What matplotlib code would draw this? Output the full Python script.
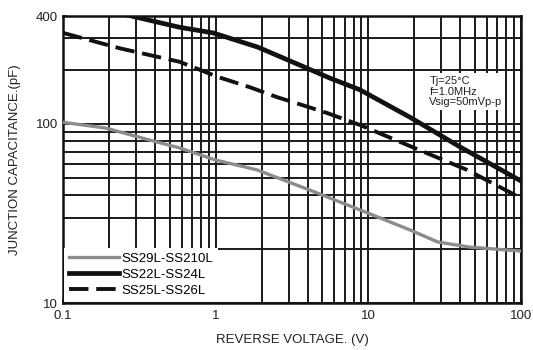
import numpy as np
import matplotlib.pyplot as plt
from matplotlib.ticker import FixedLocator, LogLocator, NullFormatter, FixedFormatter

plt.rcParams["font.family"] = ["Liberation Sans", "DejaVu Sans"]


# DONNÉES

v_ss29 = [0.1, 0.19, 0.37, 0.58, 1.0, 1.86, 4.1, 8.8, 18.7, 28.5, 46.4, 100]
c_ss29 = [102, 94.8, 81.2, 73.4, 62.8, 55.4, 42.8, 33.1, 25.6, 21.9, 20.5, 19.5]

v_ss22 = [0.1, 0.28, 0.58, 0.96, 1.89, 3.55, 5.6, 8.8, 18.7, 39.8, 100]
c_ss22 = [485, 400, 346, 322, 268, 213, 180, 155, 109, 74.4, 48.0]

v_ss25 = [0.1, 0.236, 0.58, 1.03, 1.68, 2.52, 3.73, 5.36, 8.8, 21.7, 44.2, 100]
c_ss25 = [322, 264, 222, 183, 160, 141, 127, 115, 98.6, 71.3, 55.4, 38.5]

labels = ["SS29L-SS210L", "SS22L-SS24L", "SS25L-SS26L"]

x_ticks = [0.1, 1, 10, 100]
x_ticklabels = ["0.1", "1", "10", "100"]
y_ticks = [10, 100, 400]
y_ticklabels = ["10", "100", "400"]


# GRAPHIQUE

fig = plt.figure(figsize=(5.33, 3.5), dpi=100)
ax = fig.add_axes([63/533, 1-303/350, (521-63)/533, (303-16)/350])

ax.set_xscale("log")
ax.set_yscale("log")
ax.set_xlim(0.1, 100)
ax.set_ylim(10, 400)

ax.plot(v_ss29, c_ss29, color="#8c8c8c", linewidth=2.4, label=labels[0], zorder=3)
ax.plot(v_ss22, c_ss22, color="#111111", linewidth=3.4, label=labels[1], zorder=3)
ax.plot(v_ss25, c_ss25, color="#111111", linewidth=2.8, dashes=(5, 2),
        label=labels[2], zorder=3)

ax.xaxis.set_major_locator(FixedLocator(x_ticks))
ax.xaxis.set_major_formatter(FixedFormatter(x_ticklabels))
ax.xaxis.set_minor_locator(LogLocator(base=10, subs=np.arange(2, 10)))
ax.xaxis.set_minor_formatter(NullFormatter())

ax.yaxis.set_major_locator(FixedLocator(y_ticks))
ax.yaxis.set_major_formatter(FixedFormatter(y_ticklabels))
ax.yaxis.set_minor_locator(LogLocator(base=10, subs=np.arange(2, 10)))
ax.yaxis.set_minor_formatter(NullFormatter())

ax.grid(True, which="both", color="#1a1a1a", linewidth=1.4)
ax.set_axisbelow(True)

ax.tick_params(which="both", direction="in", length=3, width=1.2,
               labelsize=9.5, colors="#222222")
ax.tick_params(axis="x", pad=5)

for s in ax.spines.values():
    s.set_linewidth(1.8)
    s.set_color("#111111")

ax.set_xlabel("REVERSE VOLTAGE. (V)", fontsize=9.5, color="#222222", labelpad=9)
ax.set_ylabel("JUNCTION CAPACITANCE.(pF)", fontsize=9.5, color="#222222", labelpad=11)

leg = ax.legend(loc="lower left", fontsize=9.5, frameon=True, fancybox=False,
                facecolor="white", edgecolor="none", framealpha=1,
                borderaxespad=0.1, handlelength=3.8, handletextpad=0.2,
                labelspacing=0.3, borderpad=0.35)

ax.text(0.8, 0.79, "Tj=25°C\nf=1.0MHz\nVsig=50mVp-p", transform=ax.transAxes,
        va="top", ha="left", fontsize=8, linespacing=1.05, color="#222222",
        bbox=dict(facecolor="white", edgecolor="none", pad=2), zorder=4)

fig.savefig("out.png", dpi=100)
